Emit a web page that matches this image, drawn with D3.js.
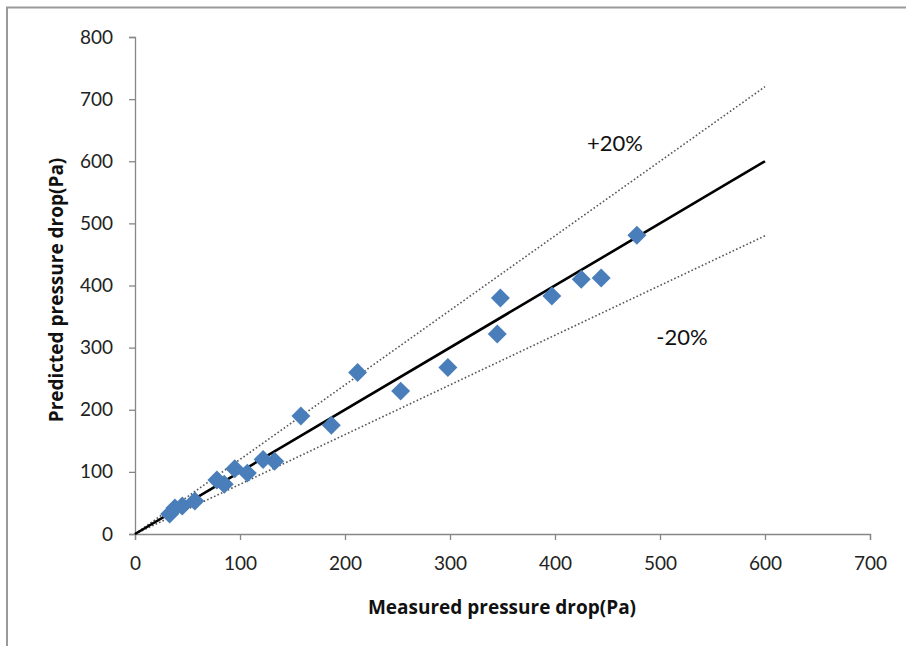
<html>
  <head>
    <script src="https://d3js.org/d3.v7.min.js"></script>
  </head>
  <style>
  body { margin: 0; background: #fff; }
  </style>
  <body>
    <svg id="chart" width="906" height="646"></svg>

    <script>
    // data
    const measured  = [33, 38, 45, 57, 78, 85, 95, 107, 122, 133, 158, 187, 212, 253, 298, 345, 348, 397, 425, 444, 478];
    const predicted = [32, 42, 45, 53, 87, 80, 105, 98, 120, 117, 190, 175, 260, 230, 268, 322, 380, 383, 410, 412, 481];
    const xTicks = [0, 100, 200, 300, 400, 500, 600, 700];
    const yTicks = [0, 100, 200, 300, 400, 500, 600, 700, 800];
    const lineEnd = 600;        // 1:1 line and +/-20% lines go to x=600
    const bands = [1.2, 0.8];

    const svg = d3.select("#chart");
    const font = "Lato, 'Open Sans', sans-serif";

    // outer frame
    svg.append("path")
      .attr("d", "M7,650 L7,7.5 L910,7.5")
      .attr("fill", "none")
      .attr("stroke", "#9a9a9a")
      .attr("stroke-width", 2);

    const x = d3.scaleLinear().domain([0, 700]).range([135, 870]);
    const y = d3.scaleLinear().domain([0, 800]).range([534, 37]);

    // axes
    const xAxis = svg.append("g")
      .attr("transform", "translate(0," + y(0) + ")")
      .call(d3.axisBottom(x).tickValues(xTicks).tickSize(6).tickPadding(17));
    const yAxis = svg.append("g")
      .attr("transform", "translate(" + x(0) + ",0)")
      .call(d3.axisLeft(y).tickValues(yTicks).tickSize(6).tickPadding(16));

    [xAxis, yAxis].forEach(function(g) {
      g.select(".domain").attr("stroke", "#878787").attr("stroke-width", 1.3);
      g.selectAll(".tick line").attr("stroke", "#878787").attr("stroke-width", 1.3);
      g.selectAll(".tick text")
        .attr("fill", "#222")
        .style("font-family", font)
        .style("font-size", "19px");
    });

    // +/-20% dotted lines
    bands.forEach(function(k) {
      svg.append("line")
        .attr("x1", x(0)).attr("y1", y(0))
        .attr("x2", x(lineEnd)).attr("y2", y(lineEnd * k))
        .attr("stroke", "#555")
        .attr("stroke-width", 1.6)
        .attr("stroke-dasharray", "1.6,2.2");
    });

    // 1:1 line
    svg.append("line")
      .attr("x1", x(0)).attr("y1", y(0))
      .attr("x2", x(lineEnd)).attr("y2", y(lineEnd))
      .attr("stroke", "#000")
      .attr("stroke-width", 2.6);

    // points
    const diamond = d3.symbol().type(d3.symbolSquare).size(180);
    svg.append("g").selectAll("path")
      .data(d3.range(measured.length))
      .enter().append("path")
      .attr("d", diamond)
      .attr("fill", "#4a7ebb")
      .attr("transform", function(i) {
        return "translate(" + x(measured[i]) + "," + y(predicted[i]) + ") rotate(45)";
      });

    // labels
    svg.append("text")
      .attr("x", 615).attr("y", 151)
      .attr("text-anchor", "middle")
      .style("font-family", font).style("font-size", "22px").attr("fill", "#111")
      .text("+20%");
    svg.append("text")
      .attr("x", 682).attr("y", 345)
      .attr("text-anchor", "middle")
      .style("font-family", font).style("font-size", "22px").attr("fill", "#111")
      .text("-20%");

    svg.append("text")
      .attr("x", 502).attr("y", 614)
      .attr("text-anchor", "middle")
      .style("font-family", "'Open Sans', sans-serif").style("font-size", "19px").style("font-weight", "bold")
      .attr("fill", "#111")
      .text("Measured pressure drop(Pa)");
    svg.append("text")
      .attr("transform", "translate(63,290) rotate(-90)")
      .attr("text-anchor", "middle")
      .style("font-family", "'Open Sans', sans-serif").style("font-size", "19px").style("font-weight", "bold")
      .attr("fill", "#111")
      .text("Predicted pressure drop(Pa)");
    </script>
  </body>
</html>
